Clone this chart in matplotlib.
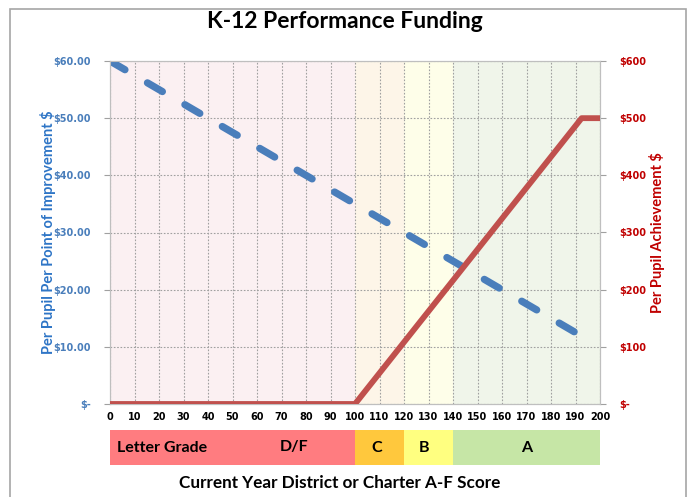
import matplotlib.pyplot as plt
from matplotlib.patches import Rectangle

# data
score = [0, 195]
improvement = [60.0, 11.25]          # $ per pupil per point (left axis)
ach_score = [0, 100, 192.5, 200]
achievement = [0, 0, 500, 500]       # $ per pupil (right axis)

grades = ["D/F", "C", "B", "A"]
grade_start = [0, 100, 120, 140]
grade_end = [100, 120, 140, 200]
grade_bar_colors = ["#ff7c80", "#ffc83d", "#ffff80", "#c6e6a6"]
grade_bg_colors = ["#fbf0f2", "#fdf5e8", "#fefee9", "#f0f5ea"]

left_ticks = [0, 10, 20, 30, 40, 50, 60]
left_labels = ["$-", "$10.00", "$20.00", "$30.00", "$40.00", "$50.00", "$60.00"]
right_ticks = [0, 100, 200, 300, 400, 500, 600]
right_labels = ["$-", "$100", "$200", "$300", "$400", "$500", "$600"]

BLUE = "#4a7ebb"
RED = "#c0504d"
RED_TXT = "#c00000"
TXT_FONT = ["Lato", "DejaVu Sans"]

fig = plt.figure(figsize=(6.9, 4.97), dpi=100)
fig.patches.append(Rectangle((10 / 690, -0.1), 676 / 690, 1.1 - 9 / 497,
                             transform=fig.transFigure, fill=False,
                             edgecolor="#a6a6a6", linewidth=1.2))

ax = fig.add_axes([110 / 690, 1 - 404 / 497, 490 / 690, 343 / 497])
for s, e, c in zip(grade_start, grade_end, grade_bg_colors):
    ax.axvspan(s, e, color=c, zorder=0, lw=0)

ax.plot(score, improvement, color=BLUE, lw=5.2, dashes=(2.4, 3.6),
        solid_capstyle="round", dash_capstyle="round", zorder=3)
ax.set_xlim(0, 200)
ax.set_ylim(0, 60)
ax.set_xticks(range(0, 201, 10))
ax.set_yticks(left_ticks)
ax.set_yticklabels(left_labels)
ax.grid(True, color="#a0a0a0", linestyle=(0, (1.5, 1.5)), linewidth=0.8)
ax.set_axisbelow(True)
ax.tick_params(axis="x", length=0, pad=6, labelsize=7, labelcolor="black")
ax.tick_params(axis="y", length=4, color="#a0a0a0", pad=10, labelsize=7,
               labelcolor=BLUE)
for lab in ax.get_xticklabels() + ax.get_yticklabels():
    lab.set_fontweight("bold")
for sp in ax.spines.values():
    sp.set_color("#bfbfbf")
ax.set_ylabel("Per Pupil Per Point of Improvement $", color="#2e75c6",
              fontsize=10.5, fontweight="bold", family=TXT_FONT, labelpad=-2)

ax2 = ax.twinx()
ax2.plot(ach_score, achievement, color=RED, lw=4.2, zorder=4,
         solid_joinstyle="round")
ax2.set_ylim(0, 600)
ax2.set_yticks(right_ticks)
ax2.set_yticklabels(right_labels)
ax2.tick_params(axis="y", length=4, color="#a0a0a0", pad=10, labelsize=7,
                labelcolor=RED_TXT)
for lab in ax2.get_yticklabels():
    lab.set_fontweight("bold")
for sp in ax2.spines.values():
    sp.set_color("#bfbfbf")
ax2.set_ylabel("Per Pupil Achievement $", color=RED_TXT, fontsize=10.5,
               fontweight="bold", family=TXT_FONT, labelpad=2)

fig.text(0.5, 1 - 22 / 497, "K-12 Performance Funding", ha="center",
         va="center", fontsize=16.5, fontweight="bold", family=TXT_FONT)

# letter grade strip
bar = fig.add_axes([110 / 690, 1 - 465 / 497, 490 / 690, 35 / 497])
bar.barh([0] * len(grades), [e - s for s, e in zip(grade_start, grade_end)],
         left=grade_start, height=1, color=grade_bar_colors)
bar.set_xlim(0, 200)
bar.set_ylim(-0.5, 0.5)
bar.axis("off")
bar.text(3, 0, "Letter Grade", ha="left", va="center", fontsize=11.5,
         fontweight="bold", family=TXT_FONT)
label_x = [75, 109, 128, 170]
for g, x in zip(grades, label_x):
    bar.text(x, 0, g, ha="center", va="center", fontsize=11.5,
             fontweight="bold", family=TXT_FONT)

fig.text(340 / 690, 1 - 483 / 497, "Current Year District or Charter A-F Score",
         ha="center", va="center", fontsize=12.3, fontweight="bold",
         family=TXT_FONT)

fig.savefig("out.png", dpi=100)
